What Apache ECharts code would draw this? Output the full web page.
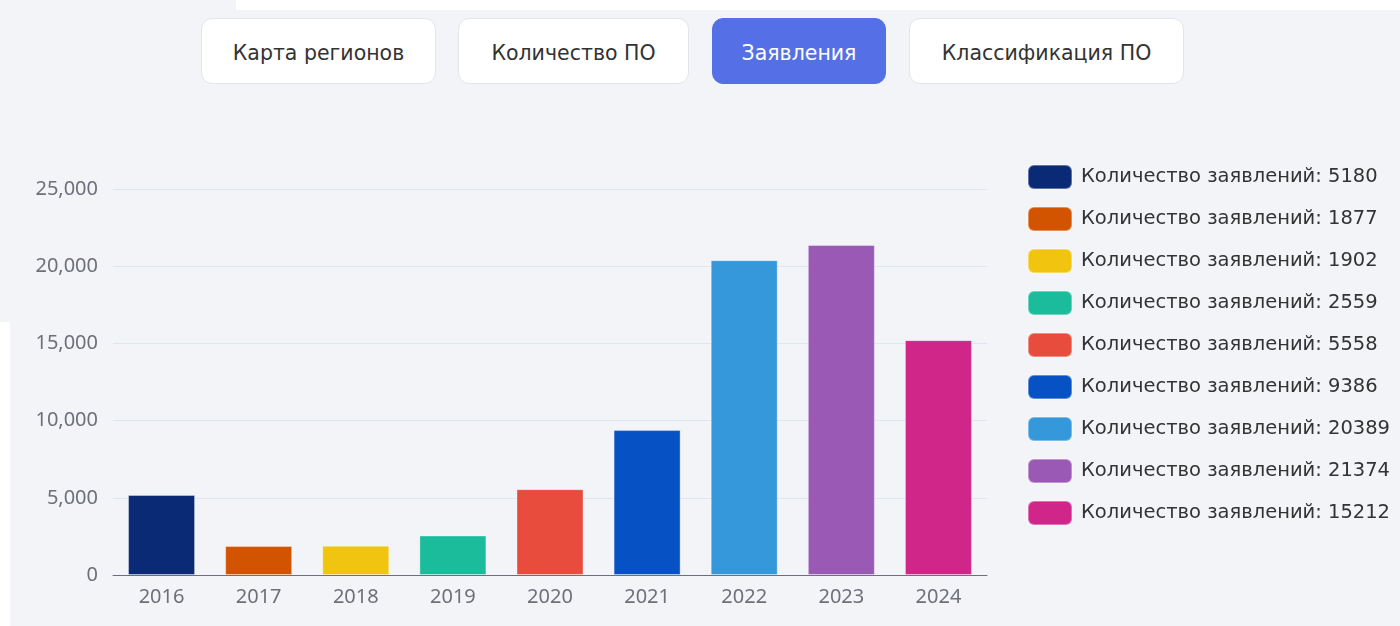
<!DOCTYPE html>
<html>
<head>
<meta charset="utf-8">
<script src="https://cdn.jsdelivr.net/npm/echarts@6/dist/echarts.min.js"></script>
<style>
  html, body { margin: 0; padding: 0; background: #f3f4f8; font-family: "DejaVu Sans", "Noto Sans", sans-serif; }
  #page { position: relative; width: 1400px; height: 626px; overflow: hidden; background: #f3f4f8; }
  .strip { position: absolute; background: #fff; }
  .tabs { position: absolute; top: 18px; left: 0; width: 1400px; height: 66px; }
  .tab { position: absolute; top: 0; height: 66px; box-sizing: border-box; border: 1px solid #e3e5ec; border-radius: 11px;
         background: #fff; color: #333; font-size: 20.5px; padding-top: 3px; display: flex; align-items: center; justify-content: center; }
  .tab.active { background: #5570e6; border-color: #5570e6; color: #fff; }
  #chart { position: absolute; left: 0; top: 0; width: 1400px; height: 626px; }
</style>
</head>
<body>
<div id="page">
  <div class="strip" style="left:236px;top:0;width:1164px;height:10px"></div>
  <div class="strip" style="left:0;top:322px;width:10px;height:304px"></div>
  <div class="tabs">
    <div class="tab" style="left:201px;width:235px">Карта регионов</div>
    <div class="tab" style="left:458px;width:231px">Количество ПО</div>
    <div class="tab active" style="left:712px;width:174px">Заявления</div>
    <div class="tab" style="left:909px;width:275px">Классификация ПО</div>
  </div>
  <div id="chart"></div>
</div>
<script>
  let years = ['2016', '2017', '2018', '2019', '2020', '2021', '2022', '2023', '2024'];
  let counts = [5180, 1877, 1902, 2559, 5558, 9386, 20389, 21374, 15212];
  let colors = ['#0b2a75', '#d35400', '#f1c40f', '#1abc9c', '#e74c3c', '#0652c5', '#3498db', '#9b59b6', '#d0268a'];
  let label = 'Количество заявлений';

  let myChart = echarts.init(document.getElementById('chart'));

  // one series per year so each gets its own legend entry
  let series = years.map((y, i) => ({
    name: label + ': ' + counts[i],
    type: 'bar',
    stack: 'total',
    barWidth: '69%',
    itemStyle: { color: colors[i], borderColor: 'rgba(255,255,255,0.35)', borderWidth: 1 },
    data: years.map((_, j) => (j === i ? counts[i] : '-'))
  }));

  let option = {
    backgroundColor: 'transparent',
    animation: false,
    grid: { left: 113, right: 413, top: 189, bottom: 51 },
    legend: {
      orient: 'vertical',
      left: 1027,
      top: 164,
      padding: 0,
      itemWidth: 44,
      itemHeight: 24,
      itemGap: 16,
      icon: 'roundRect',
      textStyle: { color: '#333', fontSize: 19.5, lineHeight: 24, fontFamily: 'DejaVu Sans', padding: [0, 0, 0, 4] }
    },
    xAxis: {
      type: 'category',
      data: years,
      axisLine: { lineStyle: { color: '#6e7079' } },
      axisTick: { lineStyle: { color: '#6e7079' } },
      axisLabel: { color: '#6e7079', fontSize: 20, margin: 12, fontFamily: 'Noto Sans' }
    },
    yAxis: {
      type: 'value',
      min: 0,
      max: 25000,
      interval: 5000,
      axisLabel: { color: '#6e7079', fontSize: 20, margin: 15, fontFamily: 'Noto Sans',
        formatter: v => v.toLocaleString('en-US') },
      splitLine: { lineStyle: { color: '#e0e6f1' } }
    },
    series: series
  };
  myChart.setOption(option);
</script>
</body>
</html>
